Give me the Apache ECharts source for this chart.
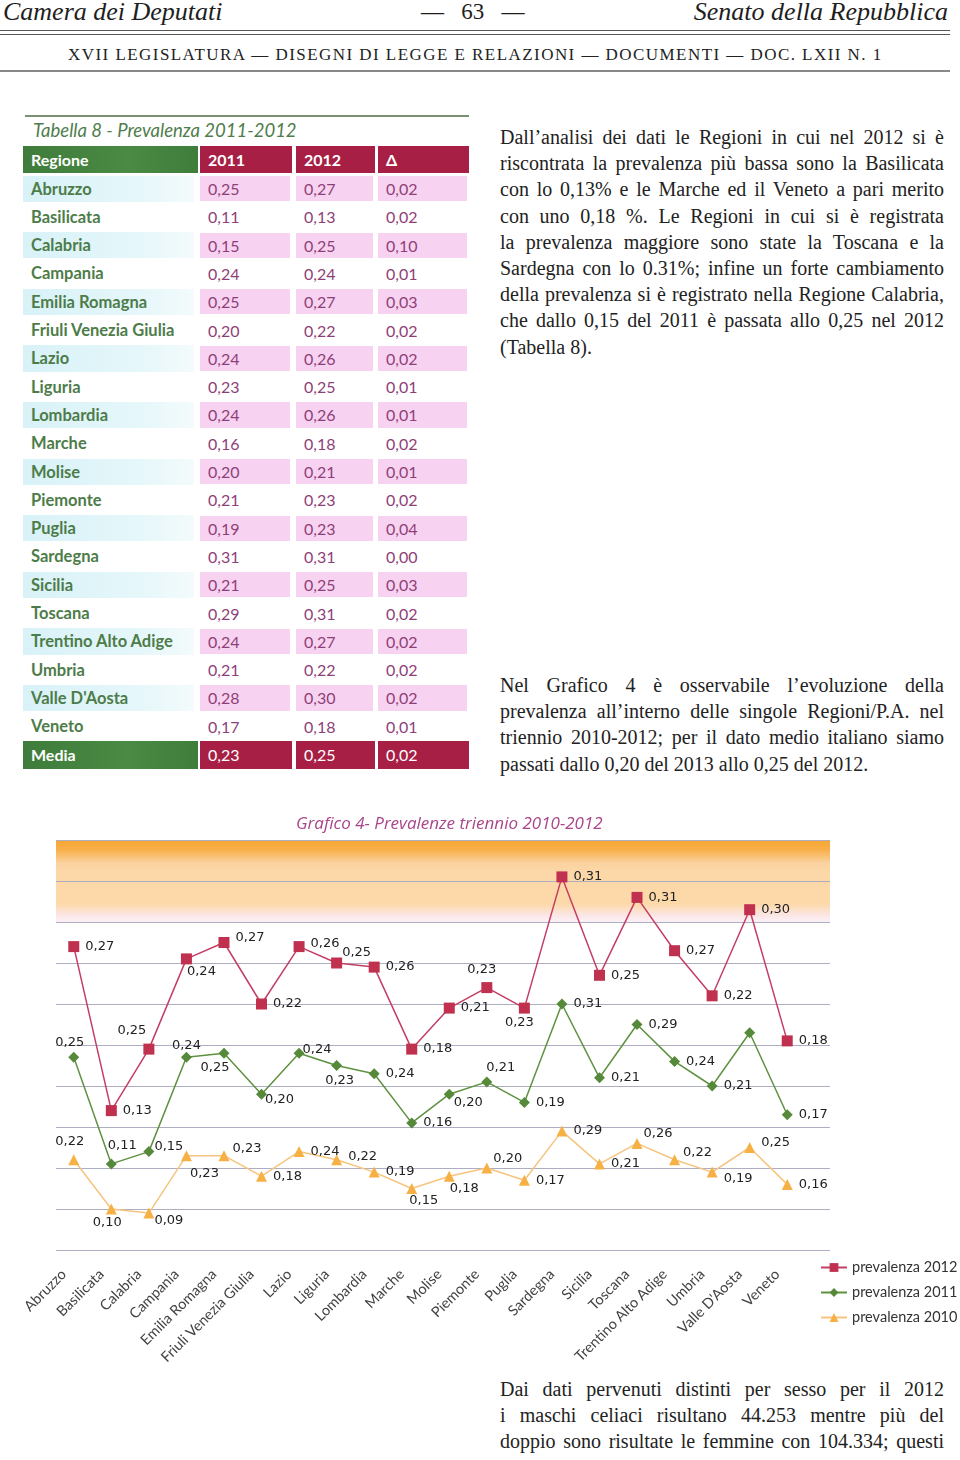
<!DOCTYPE html>
<html><head><meta charset="utf-8">
<script src="https://cdn.jsdelivr.net/npm/echarts@6/dist/echarts.min.js"></script>
<style>
html,body{margin:0;padding:0;background:#fff;}
body{width:960px;height:1460px;position:relative;overflow:hidden;font-family:'Liberation Serif',serif;color:#222;}
.abs{position:absolute;white-space:nowrap;}
.hdr{font-style:italic;font-size:26px;line-height:28px;top:-2px;color:#1e1e1e;}
.rule{position:absolute;left:0;width:950px;background:#555;}
.sub{font-size:17px;line-height:20px;top:45px;left:68px;letter-spacing:1.45px;color:#222;}
.ln{position:absolute;left:500px;width:444px;font-size:20px;line-height:26px;white-space:nowrap;text-align:justify;text-align-last:justify;color:#222;}
.ln.last{text-align:left;text-align-last:left;}
.cell{position:absolute;box-sizing:border-box;font-family:'Lato',sans-serif;font-size:16px;line-height:28px;padding-left:8px;white-space:nowrap;}
#chart{position:absolute;left:0;top:800px;width:960px;height:580px;}
</style></head><body>

<div class="abs hdr" style="left:3px;">Camera dei Deputati</div>
<div class="abs hdr" style="left:421px;font-style:normal;font-size:23px;">—&nbsp;&nbsp;&nbsp;63&nbsp;&nbsp;&nbsp;—</div>
<div class="abs hdr" style="right:12px;">Senato della Repubblica</div>
<div class="rule" style="top:30px;height:1px;"></div>
<div class="rule" style="top:34px;height:1px;"></div>
<div class="abs sub">XVII LEGISLATURA — DISEGNI DI LEGGE E RELAZIONI — DOCUMENTI — DOC. LXII N. 1</div>
<div class="rule" style="top:70px;height:1.5px;background:#888;"></div>

<div id="tbl"></div>
<div id="txt"></div>
<div id="chart"></div>

<script>
// ---------- DATA ----------
const regions = ['Abruzzo','Basilicata','Calabria','Campania','Emilia Romagna','Friuli Venezia Giulia','Lazio','Liguria','Lombardia','Marche','Molise','Piemonte','Puglia','Sardegna','Sicilia','Toscana','Trentino Alto Adige','Umbria',"Valle D'Aosta",'Veneto'];
const prev2010 = [0.22,0.10,0.09,0.23,0.23,0.18,0.24,0.22,0.19,0.15,0.18,0.20,0.17,0.29,0.21,0.26,0.22,0.19,0.25,0.16];
const prev2011 = [0.25,0.11,0.15,0.24,0.25,0.20,0.24,0.23,0.24,0.16,0.20,0.21,0.19,0.31,0.21,0.29,0.24,0.21,0.28,0.17];
const prev2012 = [0.27,0.13,0.25,0.24,0.27,0.22,0.26,0.25,0.26,0.18,0.21,0.23,0.23,0.31,0.25,0.31,0.27,0.22,0.30,0.18];
const delta    = [0.02,0.02,0.10,0.01,0.03,0.02,0.02,0.01,0.01,0.02,0.01,0.02,0.04,0.00,0.03,0.02,0.02,0.02,0.02,0.01];
const media = {label:'Media', v2011:0.23, v2012:0.25, delta:0.02};
const tableHead = ['Regione','2011','2012','Δ'];
const tableTitle = 'Tabella 8 - Prevalenza 2011-2012';
const seriesNames = ['prevalenza 2012','prevalenza 2011','prevalenza 2010'];
const chartTitle = 'Grafico 4- Prevalenze triennio 2010-2012';
const para1 = ['Dall’analisi dei dati le Regioni in cui nel 2012 si è','riscontrata la prevalenza più bassa sono la Basilicata','con lo 0,13% e le Marche ed il Veneto a pari merito','con uno 0,18 %. Le Regioni in cui si è registrata','la prevalenza maggiore sono state la Toscana e la','Sardegna con lo 0.31%; infine un forte cambiamento','della prevalenza si è registrato nella Regione Calabria,','che dallo 0,15 del 2011 è passata allo 0,25 nel 2012','(Tabella 8).'];
const para2 = ['Nel Grafico 4 è osservabile l’evoluzione della','prevalenza all’interno delle singole Regioni/P.A. nel','triennio 2010-2012; per il dato medio italiano siamo','passati dallo 0,20 del 2013 allo 0,25 del 2012.'];
const para3 = ['Dai dati pervenuti distinti per sesso per il 2012','i maschi celiaci risultano 44.253 mentre più del','doppio sono risultate le femmine con 104.334; questi'];

const fmt = v => v.toFixed(2).replace('.', ',');

// ---------- TEXT ----------
(function(){
  const t = document.getElementById('txt');
  function para(lines, y0, lastLeft){
    lines.forEach((s,i)=>{
      const d = document.createElement('div');
      d.className = 'ln' + ((lastLeft && i===lines.length-1) ? ' last' : '');
      d.style.top = (y0 + i*26.2 - 14) + 'px';
      d.textContent = s;
      t.appendChild(d);
    });
  }
  para(para1, 138, true);
  para(para2, 686, true);
  para(para3, 1390, false);
})();

// ---------- TABLE ----------
(function(){
  const t = document.getElementById('tbl');
  const cols = [[23,175],[200,92],[296,79],[378,91]];
  function cell(x,w,y,h,txt,style){
    const d = document.createElement('div');
    d.className='cell';
    d.style.left=x+'px'; d.style.width=w+'px'; d.style.top=y+'px'; d.style.height=h+'px';
    d.style.lineHeight=h+'px';
    Object.assign(d.style, style||{});
    d.textContent = txt;
    t.appendChild(d);
  }
  const r = document.createElement('div');
  Object.assign(r.style,{position:'absolute',left:'25px',top:'115px',width:'444px',height:'2px',background:'#7d8f72'});
  t.appendChild(r);
  cell(25,320,118,24,tableTitle,{fontStyle:'italic',fontSize:'18.5px',color:'#4f7d4c'});
  const green = 'linear-gradient(90deg,#3f7c3b,#4a8a44 60%,#3f7d3b)';
  const red = '#a81f45';
  tableHead.forEach((h,j)=>{
    cell(cols[j][0],cols[j][1],146,27,h,{background:j===0?green:red,color:'#fff',fontWeight:'bold'});
  });
  const y0 = 174.5, rh = 28.3;
  regions.forEach((name,i)=>{
    const y = y0 + i*rh;
    const shaded = i%2===0;
    cell(cols[0][0],cols[0][1]-4,y+1,rh-2,name,{color:'#4d7c49',fontWeight:'bold',fontSize:'16.5px',background:shaded?'linear-gradient(90deg,#d8f2f8,#e6f7fa 70%,#f4fbfc)':'transparent'});
    const vals=[fmt(prev2011[i]),fmt(prev2012[i]),fmt(delta[i])];
    vals.forEach((v,j)=>{
      cell(cols[j+1][0],cols[j+1][1]-2,y+1.5,rh-3,v,{color:'#8f3f78',background:shaded?'#f8d3f1':'transparent'});
    });
  });
  const ym = y0 + regions.length*rh;
  cell(cols[0][0],cols[0][1],ym,28,media.label,{background:green,color:'#fff',fontWeight:'bold'});
  [fmt(media.v2011),fmt(media.v2012),fmt(media.delta)].forEach((v,j)=>{
    cell(cols[j+1][0],cols[j+1][1],ym,28,v,{background:red,color:'#fff'});
  });
})();

// ---------- CHART ----------
const POS = {r:'right', t:'top', b:'bottom', l:'left'};
const lab2012 = ['r','r','t:-17,0','b:15,-5','r:0,-5','r','r:0,-3','t:20,8','r','r','r','t:-5,0','b:-5,-3','r','r','r','r','r','r','r'];
const lab2011 = ['t:-4,3','t:11,0','r:-6,-5','t:0,6','b:-9,-4','r:-8,5','r:-8,-4','b:3,-3','r','r','r:-7,8','t:14,4','r','r','r','r','r','r','n','r'];
const lab2010 = ['t:-4,0','b:-4,-4','r:-6,8','b:18,0','r:-3,-7','r','r','r:0,-3','r','b:12,-6','b:15,-6','r:-5,-9','r','r','r','r:-5,-10','r:-3,-7','r:0,7','r:0,-5','r'];
function mkData(vals, styles){
  return vals.map((v,i)=>{
    const s = styles[i];
    if (s === 'n') return {value:v, label:{show:false}};
    const parts = s.split(':');
    const o = parts[1] ? parts[1].split(',').map(Number) : [0,0];
    return {value:v, label:{position:POS[parts[0]], offset:[o[0], o[1]||0]}};
  });
}
const labelStyle = {show:true, formatter:p=>fmt(p.value), fontFamily:'DejaVu Sans', fontSize:13, color:'#222', distance:6};

const chart = echarts.init(document.getElementById('chart'));
chart.setOption({
  animation:false,
  title:{text:chartTitle, left:291, top:11, textStyle:{fontFamily:'Open Sans', fontStyle:'italic', fontWeight:'normal', fontSize:17, color:'#a9468a'}},
  legend:{data:seriesNames, orient:'vertical', left:815, top:455, itemWidth:26, itemHeight:11, itemGap:10,
    textStyle:{fontFamily:'Lato', fontSize:14.5, color:'#333'}},
  grid:[
    {left:56, top:40, width:774, height:410},
    {left:55, top:40, width:751, height:410}
  ],
  xAxis:[
    {gridIndex:0, type:'value', min:0, max:1, show:false},
    {gridIndex:1, type:'category', data:regions, boundaryGap:true,
      axisLine:{show:false}, axisTick:{show:false},
      axisLabel:{rotate:45, interval:0, fontFamily:'Lato', fontSize:14.5, color:'#444', margin:12, padding:[0,14,0,0]}}
  ],
  yAxis:[
    {gridIndex:0, type:'value', min:0, max:1, interval:0.1, z:5,
      axisLine:{show:false}, axisTick:{show:false}, axisLabel:{show:false},
      splitLine:{show:true, lineStyle:{color:'#aeaec2', width:1}}},
    {gridIndex:1, type:'value', min:0, max:1, show:false, splitLine:{show:false}}
  ],
  series:[
    {type:'line', xAxisIndex:0, yAxisIndex:0, data:[[0,0],[1,0]], symbol:'none', silent:true, z:1,
      lineStyle:{opacity:0},
      markArea:{silent:true, itemStyle:{color:new echarts.graphic.LinearGradient(0,0,0,1,[
        {offset:0, color:'#f7a632'},{offset:0.12, color:'#f8b04a'},{offset:0.28, color:'#fbd2a0'},
        {offset:0.4, color:'#fcd8a8'},{offset:0.78, color:'#fdd9aa'},{offset:0.92, color:'#fbe6e6'},{offset:1, color:'#fbf1f6'}])},
        data:[[{xAxis:0, yAxis:0.8},{xAxis:1, yAxis:1}]]}},
    {name:seriesNames[2], type:'line', xAxisIndex:1, yAxisIndex:1, stack:'tot', z:10,
      data:mkData(prev2010, lab2010), symbol:'triangle', symbolSize:11,
      itemStyle:{color:'#f7b044'}, lineStyle:{color:'#f6c47e', width:1.5}, label:labelStyle},
    {name:seriesNames[1], type:'line', xAxisIndex:1, yAxisIndex:1, stack:'tot', z:11,
      data:mkData(prev2011, lab2011), symbol:'diamond', symbolSize:11,
      itemStyle:{color:'#568a3a'}, lineStyle:{color:'#5e9140', width:1.5}, label:labelStyle},
    {name:seriesNames[0], type:'line', xAxisIndex:1, yAxisIndex:1, stack:'tot', z:12,
      data:mkData(prev2012, lab2012), symbol:'rect', symbolSize:11,
      itemStyle:{color:'#c0304f'}, lineStyle:{color:'#c43e64', width:1.5}, label:labelStyle}
  ]
});
</script>
</body></html>
